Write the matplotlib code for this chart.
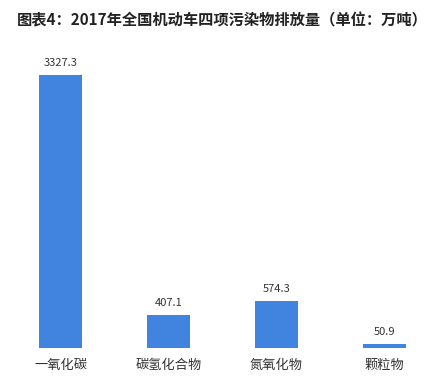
import matplotlib
matplotlib.use("Agg")
import matplotlib.pyplot as plt

plt.rcParams['font.family'] = ['Noto Sans CJK SC', 'DejaVu Sans']

categories = ["一氧化碳", "碳氢化合物", "氮氧化物", "颗粒物"]
values = [3327.3, 407.1, 574.3, 50.9]
title = "图表4：2017年全国机动车四项污染物排放量（单位：万吨）"

W, H = 447, 378
fig = plt.figure(figsize=(W / 100, H / 100), dpi=100)
ymax = 3500
bottom_px = 348
height_px = ymax * 273 / 3327.3
ax = fig.add_axes([6.5 / W, (H - bottom_px) / H, 432 / W, height_px / H])

x = list(range(len(categories)))
ax.bar(x, values, width=0.4, color="#4084e0")
for xi, v in zip(x, values):
    ax.annotate(f"{v}", (xi, v), xytext=(0, 5), textcoords="offset points",
                ha="center", va="bottom", fontsize=8, color="#333333")

ax.set_xlim(-0.5, 3.5)
ax.set_ylim(0, ymax)
ax.set_xticks(x)
ax.set_xticklabels(categories, fontsize=9.5, color="#333333")
ax.tick_params(axis="x", length=0, pad=8)
ax.set_yticks([])
for s in ax.spines.values():
    s.set_visible(False)

fig.text(17 / W, 1 - 20 / H, title, fontsize=11, fontweight="bold",
         color="#222222", ha="left", va="center")

fig.savefig("out.png", dpi=100)
